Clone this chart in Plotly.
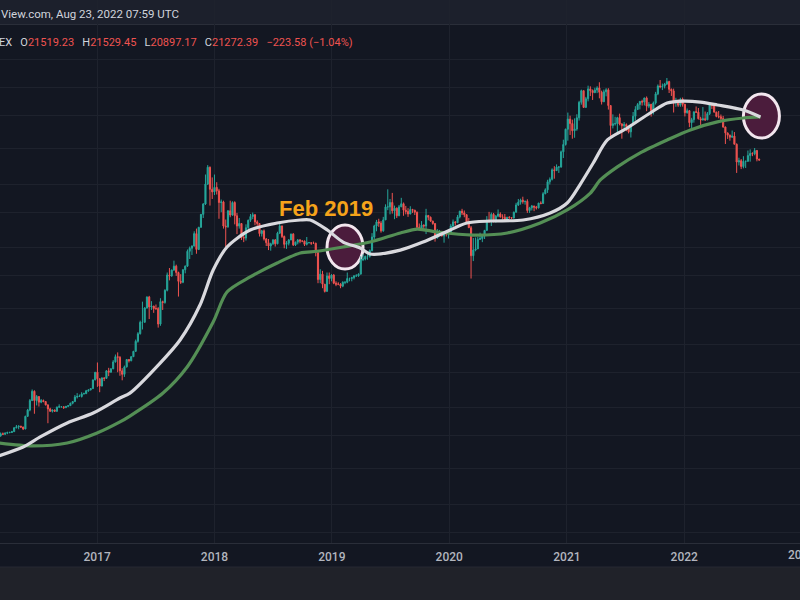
import plotly.graph_objects as go
import pandas as pd

# ---------------- weekly OHLC (week starting Monday) ----------------
FIRST_WEEK = "2016-03-07"
first_open = 400
last_open = 21519.23

close_2016 = [412, 410, 416, 420, 420, 425, 450, 455, 460, 455, 442, 530, 580, 665, 760, 665, 705, 650, 665, 655, 625, 590, 570, 580, 570, 605, 608, 608, 600, 612, 618, 640, 655, 700, 705, 705, 730, 735, 765, 775, 790, 895, 1000]
high_2016 = [420, 420, 420, 425, 425, 430, 452, 468, 465, 462, 455, 535, 590, 680, 780, 770, 720, 705, 680, 675, 660, 630, 600, 585, 585, 610, 630, 612, 612, 615, 622, 645, 660, 720, 740, 725, 750, 745, 775, 780, 795, 900, 1000]
low_2016 = [395, 405, 405, 410, 415, 418, 425, 445, 440, 448, 435, 440, 525, 570, 660, 550, 620, 610, 640, 650, 620, 480, 565, 560, 565, 565, 600, 602, 590, 598, 605, 615, 630, 655, 685, 700, 695, 730, 730, 755, 770, 790, 890]

close_2017 = [910, 820, 920, 915, 1020, 1000, 1050, 1160, 1250, 1240, 1020, 970, 1080, 1200, 1180, 1250, 1350, 1560, 1740, 2050, 2050, 2520, 2950, 2560, 2590, 2500, 2500, 2000, 2760, 2730, 3250, 4050, 4000, 4350, 4600, 4200, 3700, 3650, 4370, 4600, 5700, 5950, 6150, 7350, 5850, 8050, 9700, 11250, 15000, 19100, 13900, 13400]
high_2017 = [1150, 915, 930, 930, 1030, 1065, 1060, 1190, 1290, 1330, 1260, 1060, 1100, 1210, 1210, 1260, 1360, 1600, 1780, 2100, 2760, 2550, 2980, 3000, 2780, 2600, 2650, 2550, 2900, 2800, 3300, 4200, 4480, 4380, 4980, 4700, 4250, 4100, 4400, 4650, 5850, 6100, 6200, 7600, 7900, 8100, 9750, 11400, 17200, 19700, 19300, 16500]
low_2017 = [810, 750, 815, 880, 915, 945, 995, 1045, 1150, 1000, 950, 890, 935, 1070, 1150, 1170, 1245, 1340, 1530, 1720, 1850, 2050, 2500, 2150, 2450, 2350, 2450, 1900, 1950, 2450, 2680, 3200, 3750, 3950, 4300, 4000, 2970, 3560, 3600, 4150, 4550, 5100, 5400, 6100, 5500, 5800, 8000, 9200, 11100, 14800, 11000, 12100]

close_2018 = [14300, 13600, 11500, 11600, 8200, 8100, 10200, 9600, 11500, 9500, 8200, 8500, 6950, 6900, 8000, 8900, 9400, 9650, 8700, 8500, 7350, 7650, 6800, 6450, 6150, 6350, 6700, 6350, 7400, 8200, 7050, 6300, 6400, 6700, 7300, 6250, 6500, 6700, 6600, 6600, 6300, 6450, 6450, 6400, 6400, 5600, 3800, 4100, 3550, 3200, 4000, 3850, 4050]
high_2018 = [17200, 15400, 14000, 12000, 11800, 9000, 10300, 11800, 11700, 11700, 9900, 9200, 8500, 7500, 8400, 9000, 9750, 9950, 9700, 8900, 8550, 7750, 7800, 6900, 6800, 6450, 6800, 6800, 7550, 8500, 8250, 7150, 6600, 6800, 7350, 7400, 6550, 6800, 6800, 6650, 6650, 7000, 6500, 6450, 6550, 6450, 5600, 4400, 4300, 3550, 4200, 4200, 4100]
low_2018 = [12800, 12900, 9100, 10000, 7900, 5900, 8000, 9300, 9500, 8400, 7300, 7900, 6700, 6500, 6650, 7800, 8700, 9050, 8300, 7950, 7050, 7050, 6650, 6150, 5800, 5750, 6250, 6100, 6300, 7300, 6900, 5950, 5900, 6200, 6700, 6150, 6150, 6300, 6400, 6500, 6150, 6200, 6400, 6250, 6350, 5300, 3600, 3600, 3350, 3150, 3200, 3550, 3700]

close_2019 = [3600, 3550, 3550, 3450, 3650, 3650, 3850, 3850, 3900, 4000, 4000, 4100, 5050, 5100, 5300, 5300, 5750, 7000, 8200, 8700, 8550, 7650, 8950, 10800, 10800, 11500, 10200, 10600, 9500, 10800, 11300, 10300, 10100, 9750, 10400, 10300, 10000, 8050, 7900, 8300, 8200, 9550, 9300, 8800, 8500, 6900, 7400, 7500, 7100, 7500, 7300, 7400]
high_2019 = [4100, 3700, 3650, 3600, 3700, 3700, 4200, 3900, 3950, 4050, 4100, 4150, 5300, 5450, 5350, 5650, 5850, 7400, 8350, 8950, 9100, 8800, 9350, 11200, 13900, 12100, 13200, 11000, 10700, 11100, 12300, 11500, 10950, 10600, 10900, 10500, 10350, 10100, 8500, 8800, 8400, 10500, 9600, 9400, 8850, 8500, 7850, 7750, 7650, 7550, 7700, 7500]
low_2019 = [3550, 3450, 3500, 3350, 3400, 3550, 3600, 3700, 3700, 3800, 3950, 3950, 4100, 4950, 5000, 5050, 5200, 5700, 6800, 7600, 8100, 7450, 7550, 8950, 10300, 9700, 9800, 9050, 9200, 9450, 10800, 9500, 9700, 9350, 9700, 9900, 9600, 7800, 7700, 7800, 7850, 7300, 8900, 8700, 8350, 6550, 6850, 7150, 7050, 6450, 7050, 6850]

close_2020 = [8200, 8700, 8600, 9350, 10150, 9900, 9650, 8550, 8000, 5350, 5800, 5900, 6750, 6850, 7100, 7700, 8900, 8750, 9700, 8700, 9450, 9750, 9350, 9300, 9000, 9300, 9250, 9200, 10000, 11100, 11550, 11900, 11650, 11700, 10250, 10650, 10950, 10750, 10650, 11400, 11350, 13050, 13800, 15500, 16050, 18400, 18200, 19150, 19150, 23850, 26500, 33000]
high_2020 = [8450, 9000, 8800, 9600, 10200, 10500, 10250, 9700, 9200, 8200, 6900, 6950, 7000, 7450, 7250, 7750, 9450, 10050, 9950, 9900, 9600, 10400, 9980, 9700, 9750, 9350, 9450, 9300, 10100, 11450, 12100, 12150, 12500, 11800, 12050, 10800, 11100, 10950, 10950, 11450, 11700, 13350, 14100, 15950, 16500, 18800, 19400, 19900, 19400, 24300, 28400, 33300]
low_2020 = [7350, 8100, 8250, 8550, 9150, 9600, 9300, 8450, 8000, 3850, 4950, 5700, 5900, 6750, 6500, 6800, 7650, 8600, 8200, 8700, 8650, 9300, 9250, 9000, 8900, 8900, 9100, 9050, 9150, 9950, 10950, 11150, 11300, 11150, 9900, 9900, 10250, 10150, 10400, 10550, 11200, 11300, 12950, 13200, 14900, 15800, 16200, 18150, 17600, 19000, 21800, 26100]

close_2021 = [38200, 35800, 32300, 33100, 38900, 48600, 57500, 45200, 51200, 59000, 57500, 55900, 58000, 59800, 56200, 49000, 56600, 58200, 46400, 34800, 35700, 35800, 39000, 35600, 34700, 35300, 34300, 31800, 35400, 39800, 43800, 47100, 49300, 48800, 51800, 46000, 47300, 43200, 48200, 54900, 61500, 60900, 61300, 63300, 65500, 58600, 57300, 49400, 50100, 46700, 50800, 47300]
high_2021 = [41950, 40100, 37900, 38600, 40950, 49700, 58350, 57500, 52600, 61800, 61200, 58500, 60000, 61300, 64900, 57500, 58400, 59600, 59600, 46600, 40900, 39500, 39500, 41300, 36000, 36600, 35900, 34600, 35400, 42300, 46000, 48100, 49400, 50500, 51900, 52900, 48800, 47400, 49200, 56500, 62900, 67000, 63700, 64300, 69000, 66300, 59300, 59200, 51900, 50500, 51900, 52100]
low_2021 = [28000, 30400, 28800, 29200, 32300, 37400, 47000, 44900, 45000, 49300, 53200, 50300, 55500, 55500, 51500, 47100, 48800, 53000, 43800, 30000, 33400, 34800, 31000, 34900, 28800, 32700, 32100, 31100, 29300, 35200, 37400, 43800, 43900, 46400, 46500, 42800, 44700, 39600, 40800, 47100, 53900, 59500, 58000, 59400, 62300, 55600, 53300, 42000, 45600, 45500, 45600, 45700]

close_2022 = [41900, 43100, 36300, 37900, 42400, 42200, 38400, 37700, 38400, 37800, 41300, 46800, 46400, 42200, 39700, 39500, 38500, 34100, 31300, 30300, 29400, 29900, 26600, 20600, 21000, 19300, 20800, 20800, 22600, 23300, 23200, 24300, 21500, 21272.39]
high_2022 = [47500, 44500, 43500, 38900, 42600, 45800, 44800, 39500, 45400, 42600, 42300, 47700, 48200, 47200, 42500, 42900, 40800, 40000, 34300, 31500, 30600, 32400, 31700, 26900, 21900, 21500, 22400, 21000, 24300, 24700, 23700, 25200, 24500, 21529.45]
low_2022 = [39700, 41300, 34000, 32900, 36300, 41700, 38000, 34300, 37500, 37200, 37600, 40500, 44200, 42100, 39200, 38600, 37700, 33700, 26700, 28700, 28000, 29300, 26600, 17600, 19600, 18600, 18800, 18900, 20700, 20700, 22400, 22700, 20800, 20897.17]

# ---------------- moving averages ----------------
ma50_dates = ["2016-03-01", "2016-05-16", "2016-07-08", "2016-09-30", "2016-12-20", "2017-03-13", "2017-04-13", "2017-07-16", "2017-09-16", "2017-11-17", "2017-12-28", "2018-02-09", "2018-04-22", "2018-07-15", "2018-09-25", "2018-10-26", "2018-12-18", "2019-02-05", "2019-03-30", "2019-04-30", "2019-08-02", "2019-10-12", "2020-01-04", "2020-02-25", "2020-05-08", "2020-08-18", "2020-11-10", "2021-01-02", "2021-02-12", "2021-03-24", "2021-05-07", "2021-07-08", "2021-09-17", "2021-11-09", "2021-12-29", "2022-02-20", "2022-04-14", "2022-07-04", "2022-08-26"]
ma50_values = [300, 341, 394, 482, 556, 690, 740, 1140, 1590, 2630, 4350, 6060, 7740, 8560, 8940, 8940, 7740, 6510, 5970, 5480, 5800, 6510, 7740, 8560, 8810, 8940, 9890, 11420, 15000, 20300, 28300, 33600, 41700, 48100, 49500, 48800, 46800, 43500, 39400]

ma100_dates = ["2016-03-01", "2016-06-15", "2016-09-30", "2017-01-01", "2017-03-13", "2017-04-13", "2017-07-25", "2017-10-08", "2017-12-28", "2018-02-09", "2018-04-22", "2018-07-15", "2018-09-25", "2018-11-16", "2019-02-05", "2019-04-30", "2019-08-02", "2019-09-24", "2019-11-25", "2020-03-15", "2020-06-30", "2020-10-10", "2021-01-02", "2021-03-15", "2021-04-15", "2021-06-07", "2021-08-17", "2021-11-09", "2022-01-20", "2022-04-14", "2022-07-04", "2022-08-26"]
ma100_values = [361, 346, 361, 417, 489, 532, 741, 1078, 2060, 3170, 3940, 4820, 5560, 5700, 6060, 6510, 7420, 7850, 7520, 7200, 7420, 8560, 10330, 13170, 15900, 19200, 23500, 28300, 32700, 36700, 38800, 39400]

# crossover markers (date, price)
cross_dates = ["2019-02-11", "2022-08-29"]
cross_prices = [6060, 39900]

# axis ticks / grid
year_ticks = ["2017-01-01", "2018-01-01", "2019-01-01", "2020-01-01", "2021-01-01", "2022-01-01"]
year_labels = ["2017", "2018", "2019", "2020", "2021", "2022"]
price_grid = [100, 150, 250, 400, 600, 1000, 1500, 2500, 4000, 6000, 10000, 15000, 25000, 40000, 60000, 90000]

# ---------------- assemble ----------------
closes = close_2016 + close_2017 + close_2018 + close_2019 + close_2020 + close_2021 + close_2022
highs = high_2016 + high_2017 + high_2018 + high_2019 + high_2020 + high_2021 + high_2022
lows = low_2016 + low_2017 + low_2018 + low_2019 + low_2020 + low_2021 + low_2022
weeks = pd.date_range(FIRST_WEEK, periods=len(closes), freq="7D")
opens = [first_open] + closes[:-1]
opens[-1] = last_open
highs = [max(h, o, c) for h, o, c in zip(highs, opens, closes)]
lows = [min(l, o, c) for l, o, c in zip(lows, opens, closes)]

BG = "#131722"
GRID = "#1e222d"
UP = "#26a69a"
DOWN = "#ef5350"

fig = go.Figure()
fig.add_trace(go.Candlestick(
    x=weeks, open=opens, high=highs, low=lows, close=closes,
    increasing=dict(line=dict(color=UP, width=1), fillcolor=UP),
    decreasing=dict(line=dict(color=DOWN, width=1), fillcolor=DOWN),
    whiskerwidth=0, hoverinfo="skip", showlegend=False,
))
fig.add_trace(go.Scatter(
    x=ma100_dates, y=ma100_values, mode="lines",
    line=dict(color="#548f55", width=3.2, shape="spline", smoothing=0.8),
    hoverinfo="skip", showlegend=False,
))
fig.add_trace(go.Scatter(
    x=ma50_dates, y=ma50_values, mode="lines",
    line=dict(color="#d9d9de", width=3.2, shape="spline", smoothing=0.8),
    hoverinfo="skip", showlegend=False,
))

PLOT_H = 543.0
def py(px):
    return (PLOT_H - px) / PLOT_H

shapes = [
    dict(type="rect", xref="paper", yref="paper", x0=0, x1=1, y0=py(24.5), y1=1.0,
         fillcolor="rgba(36,40,52,0.55)", line=dict(width=0), layer="below"),
    dict(type="line", xref="paper", yref="paper", x0=0, x1=1, y0=py(24.5), y1=py(24.5),
         line=dict(color="#2a2e39", width=1), layer="below"),
    dict(type="rect", xref="paper", yref="paper", x0=0, x1=1, y0=py(600), y1=py(567),
         fillcolor="#202229", line=dict(width=0), layer="below"),
    dict(type="line", xref="paper", yref="paper", x0=0, x1=1, y0=py(567), y1=py(567),
         line=dict(color="#262933", width=1), layer="below"),
]
# highlight circles: ~36 px wide (56 days each side) and ~44 px tall (x/÷ 1.373 on the log axis)
HALF_W = pd.Timedelta(days=56)
HALF_H = 1.373
for d, p in zip(cross_dates, cross_prices):
    c = pd.Timestamp(d)
    shapes.append(dict(
        type="circle", xref="x", yref="y",
        x0=(c - HALF_W).strftime("%Y-%m-%d"), x1=(c + HALF_W).strftime("%Y-%m-%d"),
        y0=p / HALF_H, y1=p * HALF_H,
        fillcolor="#4b1c3c", line=dict(color="#f2e6ee", width=3), layer="between",
    ))

red = "#ef5350"
txt = "#d1d4dc"
sp = "&nbsp;&nbsp; "
ohlc_text = (
    f"EX{sp}O<span style='color:{red}'>21519.23</span>{sp}"
    f"H<span style='color:{red}'>21529.45</span>{sp}"
    f"L<span style='color:{red}'>20897.17</span>{sp}"
    f"C<span style='color:{red}'>21272.39</span>{sp}"
    f"<span style='color:{red}'>−223.58 (−1.04%)</span>"
)

annotations = [
    dict(text="View.com, Aug 23, 2022 07:59 UTC", xref="paper", yref="paper",
         x=0, y=py(14), xanchor="left", yanchor="middle", showarrow=False, xshift=-1,
         font=dict(family="Roboto, sans-serif", size=11.5, color=txt)),
    dict(text=ohlc_text, xref="paper", yref="paper",
         x=0, y=py(42), xanchor="left", yanchor="middle", showarrow=False, xshift=-3,
         font=dict(family="Roboto, sans-serif", size=11, color=txt)),
    dict(text="<b>Feb 2019</b>", xref="paper", yref="paper",
         x=326 / 800, y=py(208), xanchor="center", yanchor="middle", showarrow=False,
         font=dict(family="Liberation Sans, Arial, sans-serif", size=22, color="#f5a31a")),
    dict(text="2023", xref="paper", yref="paper",
         x=801.4 / 800, y=py(555), xanchor="center", yanchor="middle", showarrow=False,
         font=dict(family="Roboto, sans-serif", size=12, color="#b2b5be", weight=500)),
]

fig.update_layout(
    width=800, height=600,
    margin=dict(l=0, r=0, t=0, b=57),
    paper_bgcolor=BG, plot_bgcolor="rgba(0,0,0,0)",
    showlegend=False, hovermode=False,
    shapes=shapes, annotations=annotations,
    xaxis=dict(
        type="date", range=["2016-03-05", "2022-12-27"],
        tickvals=year_ticks, ticktext=year_labels,
        tickfont=dict(family="Roboto, sans-serif", size=12, color="#b2b5be", weight=500),
        ticklabelstandoff=3,
        showgrid=True, gridcolor=GRID, gridwidth=1,
        showline=True, linecolor="#2a2e39", linewidth=1,
        ticks="", zeroline=False, rangeslider=dict(visible=False), fixedrange=True,
    ),
    yaxis=dict(
        type="log", range=[1.9326, 5.32635],
        tickvals=price_grid, showticklabels=False,
        showgrid=True, gridcolor=GRID, gridwidth=1,
        zeroline=False, showline=False, ticks="", fixedrange=True,
    ),
)

fig.write_html("out.html", config={"displayModeBar": False})
